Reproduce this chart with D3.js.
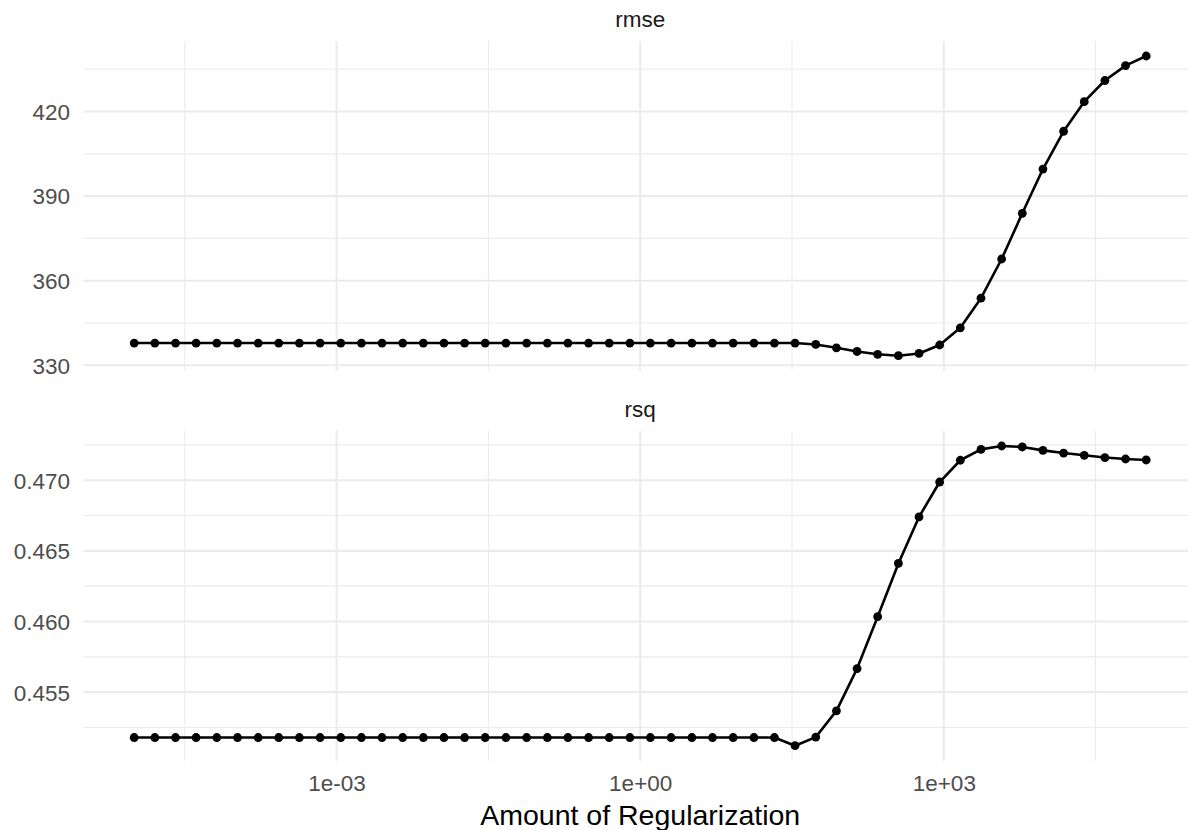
<!DOCTYPE html>
<html>
<head>
<meta charset="utf-8">
<script src="https://cdn.jsdelivr.net/npm/d3@7"></script>
<style>
  body { margin: 0; background: #fff; }
  svg { display: block; }
</style>
</head>
<body>
<div id="chart"></div>
<script>
// penalty grid (x), one value per point
const penalty = [
  1.00e-5, 1.60e-5, 2.56e-5, 4.09e-5, 6.55e-5, 1.05e-4, 1.68e-4, 2.68e-4, 4.29e-4, 6.87e-4,
  1.10e-3, 1.76e-3, 2.81e-3, 4.50e-3, 7.20e-3, 1.15e-2, 1.84e-2, 2.94e-2, 4.71e-2, 7.55e-2,
  0.121, 0.193, 0.309, 0.494, 0.791, 1.26, 2.02, 3.24, 5.18, 8.29,
  13.3, 21.2, 33.9, 54.3, 86.9, 139, 222, 356, 569, 910,
  1456, 2330, 3728, 5964, 9541, 15264, 24421, 39069, 62506, 100000
]

const rmse = [
  337.9, 337.9, 337.9, 337.9, 337.9, 337.9, 337.9, 337.9, 337.9, 337.9,
  337.9, 337.9, 337.9, 337.9, 337.9, 337.9, 337.9, 337.9, 337.9, 337.9,
  337.9, 337.9, 337.9, 337.9, 337.9, 337.9, 337.9, 337.9, 337.9, 337.9,
  337.9, 337.9, 337.9, 337.4, 336.2, 334.9, 333.9, 333.4, 334.2, 337.2,
  343.3, 353.8, 367.7, 383.9, 399.6, 413.0, 423.5, 431.0, 436.3, 439.7
]

const rsq = [
  0.45179, 0.45179, 0.45179, 0.45179, 0.45179, 0.45179, 0.45179, 0.45179, 0.45179, 0.45179,
  0.45179, 0.45179, 0.45179, 0.45179, 0.45179, 0.45179, 0.45179, 0.45179, 0.45179, 0.45179,
  0.45179, 0.45179, 0.45179, 0.45179, 0.45179, 0.45179, 0.45179, 0.45179, 0.45179, 0.45179,
  0.45179, 0.45179, 0.45121, 0.45182, 0.45368, 0.45667, 0.46034, 0.46411, 0.46740, 0.46987,
  0.47141, 0.47218, 0.47242, 0.47235, 0.47211, 0.47192, 0.47176, 0.47160, 0.47150, 0.47143
]

const xBreaks = [1e-3, 1, 1e3]
const xMinor = [Math.pow(10, -4.5), Math.pow(10, -1.5), Math.pow(10, 1.5), Math.pow(10, 4.5)]
const xLabels = ['1e-03', '1e+00', '1e+03']

const panels = [
  { name: 'rmse', values: rmse, breaks: [330, 360, 390, 420], minor: [345, 375, 405, 435], fmt: d3.format('d'), top: 41, bottom: 370.7 },
  { name: 'rsq', values: rsq, breaks: [0.455, 0.460, 0.465, 0.470], minor: [0.4525, 0.4575, 0.4625, 0.4675, 0.4725], fmt: d3.format('.3f'), top: 431, bottom: 760.7 }
]

const width = 1188
const height = 830
const left = 83.6
const right = 1196.8
const font = '"Liberation Sans", Arial, sans-serif'

const svg = d3.select('#chart')
  .append('svg')
  .attr('width', width)
  .attr('height', height)
  .style('font-family', font)

// log x with 5% expansion each side
const lx = d3.extent(penalty).map(Math.log10)
const pad = (lx[1] - lx[0]) * 0.05
const x = d3.scaleLog()
  .domain([Math.pow(10, lx[0] - pad), Math.pow(10, lx[1] + pad)])
  .range([left, right])

panels.forEach(function (p) {
  const ext = d3.extent(p.values)
  const py = (ext[1] - ext[0]) * 0.05
  const y = d3.scaleLinear()
    .domain([ext[0] - py, ext[1] + py])
    .range([p.bottom, p.top])

  const g = svg.append('g')

  // minor grid
  g.selectAll('.hminor')
    .data(p.minor)
    .enter()
    .append('line')
    .attr('x1', left).attr('x2', right)
    .attr('y1', d => y(d)).attr('y2', d => y(d))
    .style('stroke', '#ebebeb')
    .style('stroke-width', 1.1)
  g.selectAll('.vminor')
    .data(xMinor)
    .enter()
    .append('line')
    .attr('x1', d => x(d)).attr('x2', d => x(d))
    .attr('y1', p.top).attr('y2', p.bottom)
    .style('stroke', '#ebebeb')
    .style('stroke-width', 1.1)

  // major grid
  g.selectAll('.hmajor')
    .data(p.breaks)
    .enter()
    .append('line')
    .attr('x1', left).attr('x2', right)
    .attr('y1', d => y(d)).attr('y2', d => y(d))
    .style('stroke', '#ebebeb')
    .style('stroke-width', 2.1)
  g.selectAll('.vmajor')
    .data(xBreaks)
    .enter()
    .append('line')
    .attr('x1', d => x(d)).attr('x2', d => x(d))
    .attr('y1', p.top).attr('y2', p.bottom)
    .style('stroke', '#ebebeb')
    .style('stroke-width', 2.1)

  // y axis labels
  const yAxis = d3.axisLeft(y)
    .tickValues(p.breaks)
    .tickFormat(p.fmt)
    .tickSize(0)
    .tickPadding(0)
  g.append('g')
    .attr('transform', 'translate(70,0)')
    .call(yAxis)
    .call(a => a.select('.domain').remove())
    .selectAll('text')
    .attr('font-family', font)
    .attr('font-size', '22.5px')
    .attr('fill', '#4d4d4d')
    .attr('dy', '0.35em')

  // strip label
  g.append('text')
    .attr('x', (left + right) / 2)
    .attr('y', p.top - 14.5)
    .attr('text-anchor', 'middle')
    .attr('font-size', '22.5px')
    .attr('fill', '#1a1a1a')
    .text(p.name)

  const line = d3.line()
    .x((d, i) => x(penalty[i]))
    .y(d => y(d))
  g.append('path')
    .datum(p.values)
    .attr('d', line)
    .style('fill', 'none')
    .style('stroke', '#000')
    .style('stroke-width', 2.6)
    .style('stroke-linejoin', 'round')

  g.selectAll('circle')
    .data(p.values)
    .enter()
    .append('circle')
    .attr('cx', (d, i) => x(penalty[i]))
    .attr('cy', d => y(d))
    .attr('r', 4.4)
    .style('fill', '#000')
})

// x axis labels under bottom panel
const xAxis = d3.axisBottom(x)
  .tickValues(xBreaks)
  .tickFormat((d, i) => xLabels[i])
  .tickSize(0)
  .tickPadding(0)
svg.append('g')
  .attr('transform', 'translate(0,775)')
  .call(xAxis)
  .call(a => a.select('.domain').remove())
  .selectAll('text')
  .attr('font-family', font)
  .attr('font-size', '22.5px')
  .attr('fill', '#4d4d4d')
  .attr('dy', '0.71em')

svg.append('text')
  .attr('x', (left + right) / 2)
  .attr('y', 825)
  .attr('text-anchor', 'middle')
  .attr('font-size', '28.5px')
  .attr('fill', '#000')
  .text('Amount of Regularization')
</script>
</body>
</html>
